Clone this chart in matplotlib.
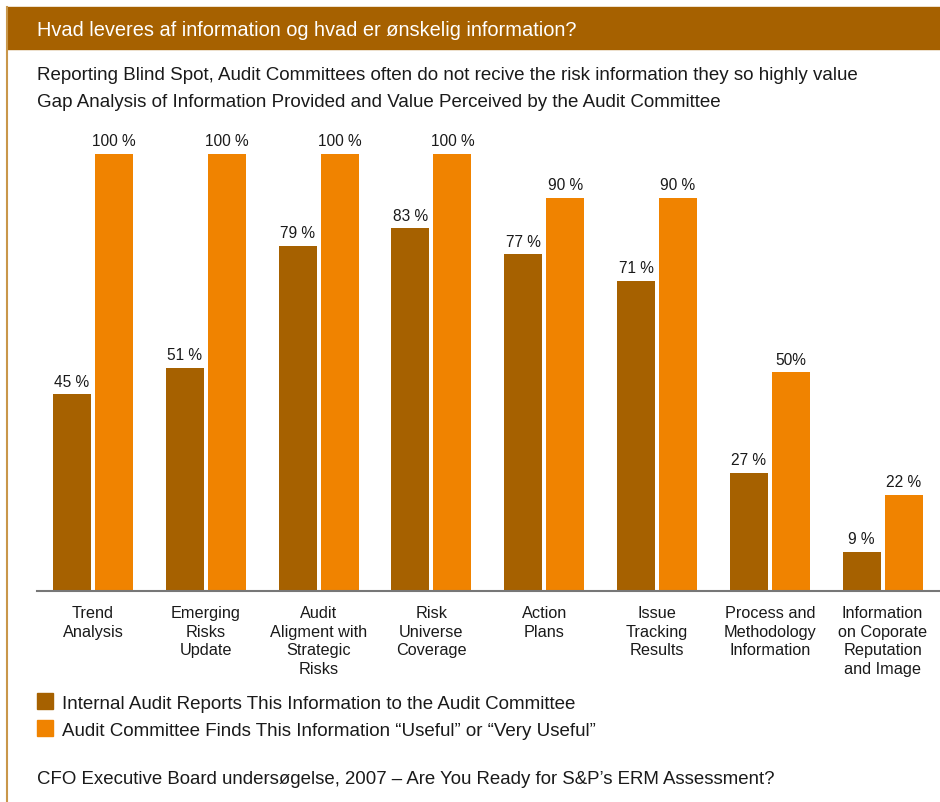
import matplotlib.pyplot as plt
import matplotlib.patches as mpatches
import numpy as np

plt.rcParams["font.family"] = ["Liberation Sans", "DejaVu Sans"]

# data
categories = ["Trend\nAnalysis", "Emerging\nRisks\nUpdate", "Audit\nAligment with\nStrategic\nRisks",
              "Risk\nUniverse\nCoverage", "Action\nPlans", "Issue\nTracking\nResults",
              "Process and\nMethodology\nInformation", "Information\non Coporate\nReputation\nand Image"]
reported = [45, 51, 79, 83, 77, 71, 27, 9]
useful = [100, 100, 100, 100, 90, 90, 50, 22]
reported_labels = ["45 %", "51 %", "79 %", "83 %", "77 %", "71 %", "27 %", "9 %"]
useful_labels = ["100 %", "100 %", "100 %", "100 %", "90 %", "90 %", "50%", "22 %"]
legend_names = ["Internal Audit Reports This Information to the Audit Committee",
                "Audit Committee Finds This Information \u201cUseful\u201d or \u201cVery Useful\u201d"]

brown = "#A66100"
orange = "#F08300"
W, H = 940, 803

fig = plt.figure(figsize=(9.4, 8.03), dpi=100)

# header bar + left border
fig.patches.append(mpatches.Rectangle((7 / W, 1 - 50 / H), 1 - 7 / W, 42 / H,
                                      transform=fig.transFigure, color=brown, zorder=0))
fig.add_artist(plt.Line2D([7.5 / W, 7.5 / W], [0, 1 - 8 / H], transform=fig.transFigure,
                          color="#C9974A", linewidth=1.5))
fig.text(37 / W, 1 - 31 / H, "Hvad leveres af information og hvad er ønskelig information?",
         color="white", fontsize=14.4, va="center")
fig.text(37 / W, 1 - 75.5 / H,
         "Reporting Blind Spot, Audit Committees often do not recive the risk information they so highly value",
         fontsize=13.5, va="center", color="#1a1a1a")
fig.text(37 / W, 1 - 102.5 / H,
         "Gap Analysis of Information Provided and Value Perceived by the Audit Committee",
         fontsize=13.5, va="center", color="#1a1a1a")

ax = fig.add_axes([37 / W, 1 - 592 / H, 1 - 37 / W, (592 - 120) / H])
x = np.arange(len(categories))
bw = 0.337
off = 0.186
b1 = ax.bar(x - off, reported, bw, color=brown)
b2 = ax.bar(x + off, useful, bw, color=orange)
for rect, lab in zip(b1, reported_labels):
    ax.text(rect.get_x() + rect.get_width() / 2, rect.get_height() + 1.3, lab,
            ha="center", va="bottom", fontsize=11.2, color="#1a1a1a")
for rect, lab in zip(b2, useful_labels):
    ax.text(rect.get_x() + rect.get_width() / 2, rect.get_height() + 1.3, lab,
            ha="center", va="bottom", fontsize=11.2, color="#1a1a1a")

ax.set_xlim(-0.4965, 7.509)
ax.set_ylim(0, 108.0)
for s in ["top", "right", "left"]:
    ax.spines[s].set_visible(False)
ax.spines["bottom"].set_color("#777777")
ax.spines["bottom"].set_linewidth(1.5)
ax.set_yticks([])
ax.set_xticks(x)
ax.set_xticklabels(categories, fontsize=11.7, linespacing=1.31, color="#1a1a1a")
ax.tick_params(axis="x", length=0, pad=10)

# legend
for i, (name, c) in enumerate(zip(legend_names, [brown, orange])):
    yc = 702 + i * 27
    fig.patches.append(mpatches.Rectangle((37 / W, 1 - (yc + 8) / H), 16 / W, 16 / H,
                                          transform=fig.transFigure, color=c))
    fig.text(62 / W, 1 - (yc + 3) / H, name, fontsize=13.5, va="center", color="#1a1a1a")

fig.text(37 / W, 1 - 780 / H,
         "CFO Executive Board undersøgelse, 2007 \u2013 Are You Ready for S&P\u2019s ERM Assessment?",
         fontsize=13.4, va="center", color="#1a1a1a")

plt.savefig("out.png", dpi=100)
